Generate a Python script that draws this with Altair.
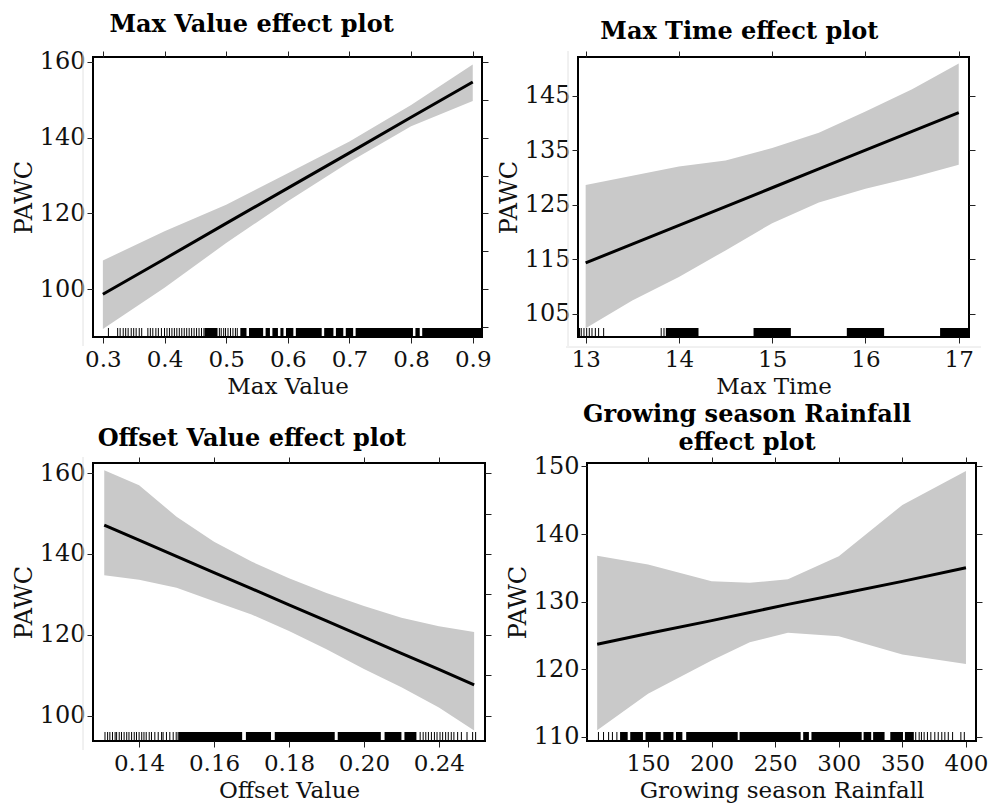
import altair as alt
import pandas as pd

FONT = "DejaVu Serif"

# ---------------- Panel 1: Max Value ----------------
mv_x = [0.3, 0.4, 0.5, 0.6, 0.7, 0.8, 0.9]
mv_fit = [98.7, 108.0, 117.4, 126.7, 136.0, 145.4, 154.7]
mv_lo = [89.5, 100.4, 112.2, 123.2, 133.6, 143.0, 149.7]
mv_hi = [107.6, 115.3, 122.3, 130.6, 139.0, 148.6, 159.3]
mv_rug_ticks = [0.309, 0.324, 0.328, 0.333, 0.337, 0.341, 0.346, 0.350, 0.354, 0.359, 0.363,
                0.373, 0.377, 0.381, 0.386, 0.390, 0.395, 0.400, 0.404, 0.408, 0.412, 0.416,
                0.420, 0.424, 0.428, 0.432, 0.436, 0.440, 0.444, 0.448, 0.452, 0.456, 0.460,
                0.464, 0.489, 0.492, 0.496, 0.499, 0.503, 0.507, 0.511, 0.515, 0.518]
mv_rug_lo = [0.465, 0.523, 0.537, 0.564, 0.575, 0.588, 0.597, 0.613, 0.659, 0.678, 0.694, 0.710, 0.807, 0.818]
mv_rug_hi = [0.486, 0.533, 0.560, 0.571, 0.584, 0.593, 0.609, 0.655, 0.674, 0.690, 0.706, 0.803, 0.814, 0.915]

# ---------------- Panel 2: Max Time ----------------
mt_x = [13, 13.5, 14, 14.5, 15, 15.5, 16, 16.5, 17]
mt_fit = [114.3, 117.75, 121.2, 124.65, 128.1, 131.55, 135.0, 138.45, 141.9]
mt_lo = [102.3, 107.4, 111.7, 116.6, 121.6, 125.4, 127.9, 130.0, 132.3]
mt_hi = [128.6, 130.3, 132.0, 133.1, 135.4, 138.2, 142.1, 146.2, 150.9]
mt_rug_ticks = [12.925, 12.953, 12.982, 13.011, 13.039, 13.068, 13.104, 13.139, 13.193, 13.81, 13.84]
mt_rug_lo = [12.918, 13.86, 14.80, 15.80, 16.80]
mt_rug_hi = [12.94, 14.21, 15.20, 16.20, 17.11]

# ---------------- Panel 3: Offset Value ----------------
ov_x = [0.1307, 0.14, 0.15, 0.16, 0.17, 0.18, 0.19, 0.20, 0.21, 0.22, 0.2294]
ov_fit = [147.1, 143.4, 139.4, 135.4, 131.4, 127.4, 123.4, 119.4, 115.4, 111.4, 107.6]
ov_lo = [134.7, 133.6, 131.6, 128.3, 125.0, 120.9, 116.4, 111.5, 107.0, 102.0, 96.3]
ov_hi = [160.7, 157.0, 149.2, 143.0, 138.1, 134.0, 130.3, 127.1, 124.2, 122.1, 120.7]
ov_rug_ticks = [0.1309, 0.1316, 0.1322, 0.1329, 0.1336, 0.1340, 0.1347, 0.1353, 0.1360, 0.1367,
                0.1373, 0.1380, 0.1387, 0.1393, 0.1400, 0.1407, 0.1413, 0.1419, 0.1427, 0.1433,
                0.1442, 0.1451, 0.1460, 0.1464, 0.1473, 0.1482, 0.1491, 0.1499, 0.1504,
                0.2150, 0.2158, 0.2165, 0.2172, 0.2180, 0.2188, 0.2195, 0.2203, 0.2210, 0.2218,
                0.2225, 0.2233, 0.2240, 0.2250, 0.2260, 0.2275, 0.2290, 0.2298]
ov_rug_lo = [0.1505, 0.1685, 0.1762, 0.1930, 0.2055, 0.2108]
ov_rug_hi = [0.1675, 0.1752, 0.1922, 0.2045, 0.2100, 0.2140]

# ---------------- Panel 4: Growing season Rainfall ----------------
gr_x = [110, 150, 200, 230, 260, 300, 350, 400]
gr_fit = [123.7, 125.3, 127.2, 128.4, 129.6, 131.1, 133.0, 135.0]
gr_lo = [111.0, 116.4, 121.3, 124.0, 125.4, 124.9, 122.2, 120.8]
gr_hi = [136.8, 135.5, 133.0, 132.8, 133.3, 136.7, 144.3, 149.3]
gr_rug_ticks = [111, 115, 119, 122, 125.5, 360.5, 363.2, 365, 367.1, 369.7, 372.4, 375.5,
                378.2, 381, 383.4, 386.1, 389.5, 396, 398.7]
gr_rug_lo = [128, 136, 148, 162, 172, 180, 222, 272, 278.5, 319.5, 327, 340.5, 352]
gr_rug_hi = [134, 146, 160, 170, 177, 220.5, 270, 276.5, 318, 325.5, 336, 350.5, 359]


def panel(xv, fit, lo, hi, rticks, rlo, rhi, xdom, ydom, xvals, yvals, yminor,
          title, xtitle, xfmt, w, h, title_offset, xlabel_expr=None, guide_v=True, guide_h=False):
    df = pd.DataFrame({"x": xv, "fit": fit, "lo": lo, "hi": hi})
    xs = alt.Scale(domain=xdom, nice=False, zero=False)
    ys = alt.Scale(domain=ydom, nice=False, zero=False)
    xaxis_kw = dict(values=xvals, title=xtitle, orient="bottom", format=xfmt)
    if xlabel_expr:
        xaxis_kw["labelExpr"] = xlabel_expr
    band = alt.Chart(df).mark_area(color="#c9c9c9", clip=True).encode(
        x=alt.X("x:Q", scale=xs, axis=alt.Axis(**xaxis_kw)),
        y=alt.Y("lo:Q", scale=ys, axis=alt.Axis(values=yvals, title="PAWC", orient="left")),
        y2="hi:Q",
    )
    line = alt.Chart(df).mark_line(color="black", strokeWidth=3, clip=True).encode(
        x=alt.X("x:Q", scale=xs, axis=alt.Axis(values=xvals, orient="top", labels=False, title=None)),
        y=alt.Y("fit:Q", scale=ys, axis=alt.Axis(values=yminor, orient="right", labels=False, title=None)),
    )
    rug_rect = alt.Chart(pd.DataFrame({"a": rlo, "b": rhi})).mark_rect(color="black", clip=True).encode(
        x=alt.X("a:Q", scale=xs, axis=None), x2="b:Q",
        y=alt.value(h - 9), y2=alt.value(h),
    )
    rug_tick = alt.Chart(pd.DataFrame({"t": rticks})).mark_rule(color="black", strokeWidth=1, clip=True).encode(
        x=alt.X("t:Q", scale=xs, axis=None),
        y=alt.value(h - 9), y2=alt.value(h),
    )
    layers = [band, line, rug_rect, rug_tick]
    gd = pd.DataFrame({"d": [0]})
    if guide_v:
        layers.append(alt.Chart(gd).mark_rule(color="#e2e2e2", strokeWidth=1).encode(
            x=alt.value(-10), y=alt.value(-6), y2=alt.value(h + 9)))
    if guide_h:
        layers.append(alt.Chart(gd).mark_rule(color="#e2e2e2", strokeWidth=1).encode(
            x=alt.value(-12), x2=alt.value(w + 12), y=alt.value(h + 10)))
    return alt.layer(*layers).properties(
        width=w, height=h,
        title=alt.TitleParams(text=title, font=FONT, fontSize=24, fontWeight="bold",
                              anchor="middle", frame="bounds", offset=title_offset,
                              color="black", lineHeight=28),
    )


p1 = panel(mv_x, mv_fit, mv_lo, mv_hi, mv_rug_ticks, mv_rug_lo, mv_rug_hi,
           [0.284, 0.915], [87.4, 161.3], [0.3, 0.4, 0.5, 0.6, 0.7, 0.8, 0.9],
           [100, 120, 140, 160], [90, 100, 110, 120, 130, 140, 150, 160],
           "Max Value effect plot", "Max Value", ".1f", 389, 280, 13)
p2 = panel(mt_x, mt_fit, mt_lo, mt_hi, mt_rug_ticks, mt_rug_lo, mt_rug_hi,
           [12.918, 17.11], [100.7, 152.1], [13, 14, 15, 16, 17],
           [105, 115, 125, 135, 145], [105, 115, 125, 135, 145],
           "Max Time effect plot", "Max Time", "d", 391, 280, 7, guide_h=True)
p3 = panel(ov_x, ov_fit, ov_lo, ov_hi, ov_rug_ticks, ov_rug_lo, ov_rug_hi,
           [0.1277, 0.2323], [93.7, 162.5], [0.14, 0.16, 0.18, 0.20, 0.22],
           [100, 120, 140, 160], [100, 110, 120, 130, 140, 150, 160],
           "Offset Value effect plot", "Offset Value", ".2f", 392, 278, 6,
           xlabel_expr="datum.value > 0.215 ? '0.24' : format(datum.value, '.2f')")
p4 = panel(gr_x, gr_fit, gr_lo, gr_hi, gr_rug_ticks, gr_rug_lo, gr_rug_hi,
           [102, 407.9], [109.4, 150.5], [150, 200, 250, 300, 350, 400],
           [110, 120, 130, 140, 150], [110, 120, 130, 140, 150],
           ["Growing season Rainfall", "effect plot"], "Growing season Rainfall", "d", 389, 278, -1,
           guide_v=False)

top = alt.hconcat(p1, p2, spacing=3)
bottom = alt.hconcat(p3, p4, spacing=12)

chart = alt.vconcat(top, bottom, spacing=3).properties(
    padding={"left": 11, "top": 11, "right": 0, "bottom": 0}
).configure(
    background="white",
).configure_view(
    stroke="black", strokeWidth=2,
).configure_axis(
    labelFont=FONT, labelFontSize=24, labelColor="#111111",
    titleFont=FONT, titleFontSize=24, titleFontWeight="normal", titleColor="#111111",
    tickColor="#222222", tickSize=6, tickWidth=1, domain=False, grid=False,
    labelPadding=2, titlePadding=3,
).configure_axisBottom(
    labelPadding=5, titlePadding=4, labelFontSize=23, titleFontSize=23,
)

chart.save("out.html", embed_options={"renderer": "svg", "actions": False})
